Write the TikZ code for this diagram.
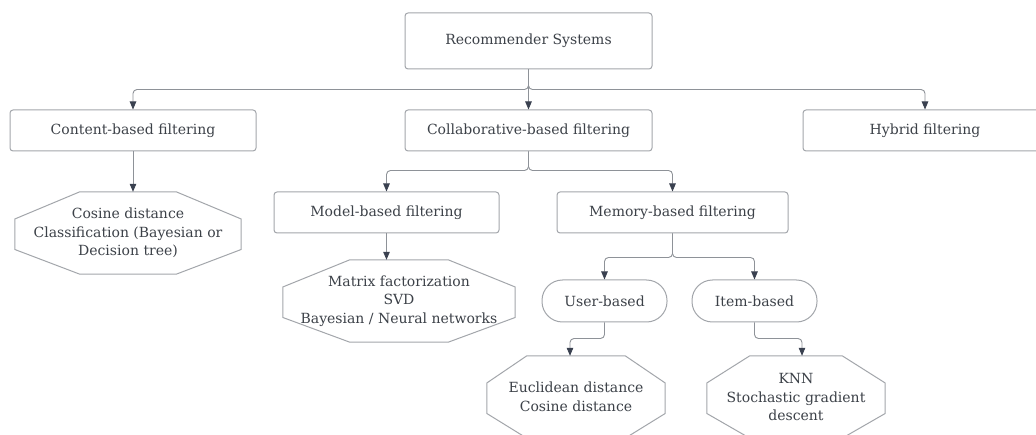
\documentclass[tikz,border=0pt]{standalone}
\usepackage{fontspec}
\setmainfont{DejaVu Serif}
\usetikzlibrary{arrows.meta,calc}

\definecolor{boxgray}{HTML}{A3A6AB}
\definecolor{linegray}{HTML}{8E9298}
\definecolor{tipdark}{HTML}{3A4150}
\definecolor{txtgray}{HTML}{3C4148}

\tikzset{
  boxline/.style={draw=boxgray, line width=1pt},
  rbox/.style={boxline, rounded corners=3pt, inner sep=0pt, align=center, text=txtgray},
  pill/.style={boxline, rounded corners=20.5pt, inner sep=0pt, align=center, text=txtgray},
  octa/.style={inner sep=0pt, align=center, text=txtgray},
  link/.style={draw=linegray, line width=0.9pt, rounded corners=4pt,
    -{Triangle[length=8pt,width=6.5pt,color=tipdark]}},
}

% outline of an elongated octagon around a named node; #2 = horizontal inset
\newcommand\octoutline[2]{%
  \draw[boxline]
    ([xshift=#2]#1.north west) -- ([xshift=-#2]#1.north east)
    -- ($(#1.north east)!0.33!(#1.south east)$)
    -- ($(#1.north east)!0.70!(#1.south east)$)
    -- ([xshift=-#2]#1.south east) -- ([xshift=#2]#1.south west)
    -- ($(#1.north west)!0.70!(#1.south west)$)
    -- ($(#1.north west)!0.33!(#1.south west)$) -- cycle;}

\begin{document}
\begin{tikzpicture}[x=1pt,y=-1pt, font=\fontsize{14}{18.5}\selectfont]
\useasboundingbox (0,0) rectangle (1036,435);
\fill[white] (0,0) rectangle (1036,435);

% boxes
\node[rbox, minimum width=247pt, minimum height=56pt] (root) at (528.5,41) {Recommender Systems};
\node[rbox, minimum width=246pt, minimum height=41pt] (content) at (133,130.5) {Content-based filtering};
\node[rbox, minimum width=247pt, minimum height=41pt] (collab) at (528.5,130.5) {Collaborative-based filtering};
\node[rbox, minimum width=244pt, minimum height=41pt] (hybrid) at (925,130.5) {Hybrid filtering};
\node[rbox, minimum width=225pt, minimum height=41pt] (model) at (386.5,212.5) {Model-based filtering};
\node[rbox, minimum width=231pt, minimum height=41pt] (memory) at (672.5,212.5) {Memory-based filtering};
\node[pill, minimum width=125pt, minimum height=42pt] (user) at (604.5,301) {User-based};
\node[pill, minimum width=125pt, minimum height=42pt] (item) at (754.5,301) {Item-based};

% octagons with technique lists
\node[octa, minimum width=226pt, minimum height=82pt] (oc) at (128,233)
  {Cosine distance\\Classification (Bayesian or\\Decision tree)};
\node[octa, minimum width=232pt, minimum height=82pt] (om) at (399,301)
  {Matrix factorization\\SVD\\Bayesian / Neural networks};
\node[octa, minimum width=178pt, minimum height=82pt] (ou) at (576,397)
  {Euclidean distance\\Cosine distance};
\node[octa, minimum width=178pt, minimum height=82pt] (oi) at (796,397)
  {KNN\\Stochastic gradient\\descent};
\octoutline{oc}{65pt}
\octoutline{om}{67pt}
\octoutline{ou}{40pt}
\octoutline{oi}{43pt}

% connectors
\coordinate (j1) at ($(root.south)+(0,20)$);
\draw[link] (root.south) -- (j1) -| (content.north);
\draw[link] (root.south) -- (collab.north);
\draw[link] (root.south) -- (j1) -| (hybrid.north);

\coordinate (j2) at ($(collab.south)+(0,19)$);
\draw[link] (collab.south) -- (j2) -| (model.north);
\draw[link] (collab.south) -- (j2) -| (memory.north);

\coordinate (j3) at ($(memory.south)+(0,24)$);
\draw[link] (memory.south) -- (j3) -| (user.north);
\draw[link] (memory.south) -- (j3) -| (item.north);

\draw[link] (content.south) -- (content.south |- oc.north);
\draw[link] (model.south) -- (model.south |- om.north);

\coordinate (ju) at ($(user.south)+(0,16)$);
\coordinate (ju2) at ($(ou.north)+(-6,0)$);
\draw[link] (user.south) -- (ju) -| (ju2);
\coordinate (ji) at ($(item.south)+(0,16)$);
\coordinate (ji2) at ($(oi.north)+(6,0)$);
\draw[link] (item.south) -- (ji) -| (ji2);
\end{tikzpicture}
\end{document}
